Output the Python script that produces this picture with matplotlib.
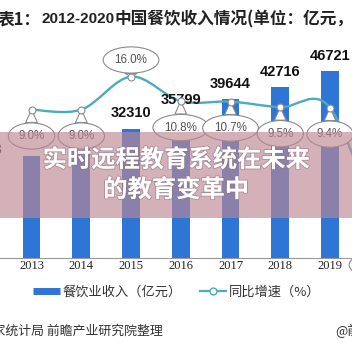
import numpy as np
import matplotlib
matplotlib.use("Agg")
import matplotlib.pyplot as plt
from matplotlib.path import Path
from matplotlib.patches import PathPatch, Rectangle
from matplotlib.lines import Line2D
import matplotlib.patheffects as pe

plt.rcParams['font.family'] = ['Noto Sans CJK SC', 'DejaVu Sans']

# 数据
years = ['2012', '2013', '2014', '2015', '2016', '2017', '2018', '2019', '2020']
revenue = [23283, 25392, 27860, 32310, 35799, 39644, 42716, 46721, 39527]
# only these bar labels are visible in the (cropped) screenshot
labelled_years = ['2012', '2015', '2016', '2017', '2018', '2019']
growth_years = ['2013', '2014', '2015', '2016', '2017', '2018', '2019', '2020']
growth = [9.0, 9.0, 16.0, 10.8, 10.7, 9.5, 9.4, -16.6]
# bubble offsets (points) above/below each growth point
bubble_dy = [-19, -19, 12, -19, -19, -19, -19, -25]

bar_color = '#2e75d6'
line_color = '#4cadba'
edge_gray = '#8a8a8a'

W = H = 352
fig = plt.figure(figsize=(W / 100, H / 100), dpi=100, facecolor='white')

# l'asse sborda a sinistra e a destra come nello screenshot ritagliato
ax = fig.add_axes([-43.1 / W, 94 / H, 447.75 / W, 200 / H])
x = np.arange(len(years))
ax.bar(x, revenue, width=0.36, color=bar_color, zorder=2)
ax.set_xlim(-0.5, len(years) - 0.5)
ax.set_ylim(0, 50000)
ax.set_xticks(x)
ax.set_xticklabels(years, family='Liberation Serif', fontsize=9, color='#222')
ax.tick_params(axis='x', length=0, pad=1.5)
ax.set_yticks([])
for s in ['top', 'left', 'right']:
    ax.spines[s].set_visible(False)
ax.spines['bottom'].set_color('#999999')
ax.spines['bottom'].set_linewidth(0.8)

ax2 = ax.twinx()
ax2.set_ylim(-22.5, 19.96)
ax2.set_yticks([])
for s in ax2.spines.values():
    s.set_visible(False)

gx = np.array([years.index(y) for y in growth_years], dtype=float)
gy = np.array(growth)


def smooth_path(xs, ys):
    pts = np.column_stack([xs, ys])
    n = len(pts)
    verts = [pts[0]]
    codes = [Path.MOVETO]
    for i in range(n - 1):
        p0 = pts[i - 1] if i > 0 else pts[i]
        p1, p2 = pts[i], pts[i + 1]
        p3 = pts[i + 2] if i + 2 < n else pts[i + 1]
        verts += [p1 + (p2 - p0) / 6, p2 - (p3 - p1) / 6, p2]
        codes += [Path.CURVE4] * 3
    return Path(verts, codes)


ax2.add_patch(PathPatch(smooth_path(gx, gy), fill=False, ec=line_color,
                        lw=1.7, zorder=2))

# etichette delle barre
for yr in labelled_years:
    i = years.index(yr)
    ax2.annotate(str(revenue[i]), xy=(i, revenue[i]), xycoords=ax.transData,
                 xytext=(0, 11), textcoords='offset points',
                 ha='center', va='center', fontsize=10.5, fontweight='bold',
                 family='Liberation Sans', color='#111', zorder=3)

# fumetti con la crescita
for xi, v, dy in zip(gx, gy, bubble_dy):
    ax2.annotate(f'{v:.1f}%', xy=(xi, v), xytext=(0, dy),
                 textcoords='offset points', ha='center', va='center',
                 fontsize=8.4, family='Liberation Sans', color='#555',
                 bbox=dict(boxstyle='ellipse,pad=0.28', fc='white',
                           ec=edge_gray, lw=0.8),
                 arrowprops=dict(arrowstyle='wedge,tail_width=1.0,shrink_factor=0.5',
                                 fc='white', ec=edge_gray, lw=0.8,
                                 shrinkA=0, shrinkB=0),
                 zorder=4)

ax2.plot(gx, gy, ls='none', marker='o', ms=5, mfc='white', mec=edge_gray,
         mew=0.8, zorder=5)

# titolo (tagliato ai bordi)
ty = 1 - 19 / H
fig.text(-2 / W, ty, '表1：', ha='left', va='center', fontsize=12,
         fontweight='bold', color='#222')
fig.text(42 / W, ty, '2012-2020', ha='left', va='center', fontsize=11,
         fontweight='bold', family='Liberation Sans', color='#222')
fig.text(115 / W, ty, '中国餐饮收入情况(单位：亿元，%)', ha='left', va='center',
         fontsize=12, fontweight='bold', color='#222')

# legenda
handles = [Line2D([], [], color=bar_color, lw=5, solid_capstyle='butt'),
           Line2D([], [], color=line_color, lw=1.6, marker='o', ms=5,
                  mfc='white', mec=line_color)]
fig.legend(handles, ['餐饮业收入（亿元）', '同比增速（%）'], loc='center',
           bbox_to_anchor=(0.503, 1 - 292 / H), ncol=2, frameon=False,
           fontsize=9.5, handlelength=2.0, columnspacing=1.4,
           handletextpad=0.2, labelcolor='#333')

# fonte
fig.text(163 / W, 1 - 331 / H, '来源：国家统计局 前瞻产业研究院整理',
         ha='right', va='center', fontsize=9.3, color='#333')
fig.text(335 / W, 1 - 331 / H, '@前瞻经济学人', ha='left', va='center',
         fontsize=9.3, color='#333')

# banda rosa sovrapposta
fig.add_artist(Rectangle((0, 1 - 218 / H), 1, 86 / H, transform=fig.transFigure,
                         fc=(189 / 255, 134 / 255, 146 / 255), alpha=0.65,
                         lw=0, zorder=5))
shadow = [pe.withStroke(linewidth=1.2, foreground=(0.55, 0.45, 0.5, 0.6))]
fig.text(0.5, 1 - 160 / H, '实时远程教育系统在未来', ha='center', va='center',
         fontsize=17.5, fontweight='bold', color='white', zorder=6,
         path_effects=shadow)
fig.text(0.5, 1 - 190 / H, '的教育变革中', ha='center', va='center',
         fontsize=17.5, fontweight='bold', color='white', zorder=6,
         path_effects=shadow)

fig.savefig('out.png', dpi=100, facecolor='white')
